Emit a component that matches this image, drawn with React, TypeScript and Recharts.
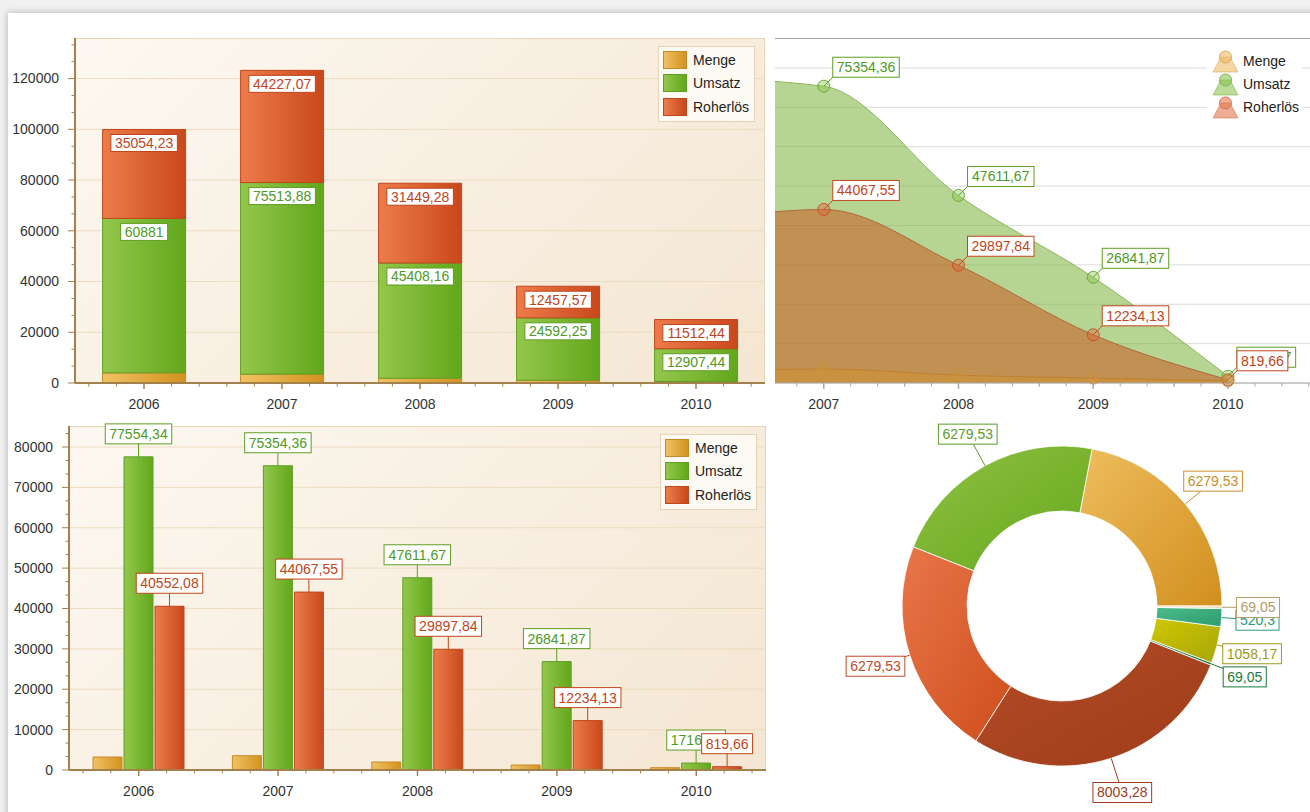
import React from "react";
import {
  BarChart, Bar, XAxis, YAxis, CartesianGrid, LabelList,
  AreaChart, Area, PieChart, Pie, Cell,
} from "recharts";

const YEARS = ["2006", "2007", "2008", "2009", "2010"];

// top-left stacked bars
const STACK_MENGE = [4000, 3500, 1900, 1100, 600];
const STACK_UMSATZ = [60881, 75513.88, 45408.16, 24592.25, 12907.44];
const STACK_ROHERLOES = [35054.23, 44227.07, 31449.28, 12457.57, 11512.44];

// bottom-left bars + top-right areas
const MENGE = [3220, 3540, 1980, 1240, 570];
const UMSATZ = [77554.34, 75354.36, 47611.67, 26841.87, 1716.57];
const ROHERLOES = [40552.08, 44067.55, 29897.84, 12234.13, 819.66];

// donut
const PIE_VALUES = [6279.53, 6279.53, 6279.53, 8003.28, 69.05, 1058.17, 520.3, 69.05];
const PIE_LIGHT = ["#eebd5e", "#8fc242", "#e8764a", "#b24c26", "#2f9352", "#cdc800", "#4cbb8c", "#f5e9d2"];
const PIE_DARK = ["#d28f1e", "#66a71d", "#cf4e1c", "#a03c1a", "#237a42", "#a9a50c", "#2c9c6c", "#e9d6b0"];
const PIE_TEXT = ["#c8902c", "#5c9c2a", "#c0492a", "#9c3c1c", "#1a7a3a", "#9a9a18", "#2a9a78", "#b89a66"];

const Y_STACK_TICKS = [0, 20000, 40000, 60000, 80000, 100000, 120000];
const Y_BAR_TICKS = [0, 10000, 20000, 30000, 40000, 50000, 60000, 70000, 80000];
const Y_AREA_TICKS = [0, 10000, 20000, 30000, 40000, 50000, 60000, 70000, 80000];
const X_AREA_TICKS = [2007, 2008, 2009, 2010];

const SERIES = [
  { key: "menge", name: "Menge", light: "#f0c264", dark: "#d3921f", border: "#c88a26", text: "#c88a26" },
  { key: "umsatz", name: "Umsatz", light: "#94c74c", dark: "#62a71b", border: "#5f9e22", text: "#4e9a24" },
  { key: "roh", name: "Roherlös", light: "#ed7c4b", dark: "#c9481b", border: "#c0461c", text: "#c2441a" },
];

const FONT = "'Liberation Sans', Arial, sans-serif";
const AXIS_BROWN = "#a3814c";

const stackData = YEARS.map((year, i) => ({
  year, menge: STACK_MENGE[i], umsatz: STACK_UMSATZ[i], roh: STACK_ROHERLOES[i],
}));
const data = YEARS.map((year, i) => ({
  year, x: Number(year), menge: MENGE[i], umsatz: UMSATZ[i], roh: ROHERLOES[i],
}));
const pieData = PIE_VALUES.map((value, i) => ({ name: `s${i}`, value }));

const fmt = (v: number) => String(v).replace(".", ",");
const textW = (t: string) => [...t].reduce((s, ch) => s + (ch === "," ? 3.9 : 7.8), 0);

const minorTicks = (step: number, max: number) => {
  const out: number[] = [];
  for (let k = 0; (k * step) / 3 <= max; k++) out.push((k * step) / 3);
  return out;
};

const makeYTick = (step: number, color: string) => (p: any) => {
  const { x, y, payload } = p;
  const v = payload.value;
  const major = Math.abs(v / step - Math.round(v / step)) < 1e-6;
  if (!major) return <line x1={x - 3.5} x2={x} y1={y} y2={y} stroke={color} />;
  return (
    <g>
      <line x1={x - 7} x2={x} y1={y} y2={y} stroke={color} />
      <text x={x - 16} y={y} dy="0.35em" textAnchor="end" fontSize={14} fill="#333">
        {Math.round(v)}
      </text>
    </g>
  );
};

const makeXTick = (band: number, color: string, minors = [-0.4, -0.2, 0.2, 0.4]) => (p: any) => {
  const { x, y, payload } = p;
  return (
    <g>
      <line x1={x} x2={x} y1={y} y2={y + 6} stroke={color} strokeWidth={1.5} />
      {minors.map((f) => (
        <line key={f} x1={x + f * band} x2={x + f * band} y1={y} y2={y + 3.5} stroke={color} />
      ))}
      <text x={x} y={y + 21} dy="0.35em" textAnchor="middle" fontSize={14} fill="#333">
        {payload.value}
      </text>
    </g>
  );
};

const getXY = (p: any) => {
  const vb = p.viewBox || {};
  return {
    x: p.x ?? vb.x, y: p.y ?? vb.y, width: p.width ?? vb.width ?? 0,
  };
};

// label inside the top of a stacked segment
const insideLabel = (c: any) => (p: any) => {
  const { x, y, width } = getXY(p);
  const t = fmt(p.value);
  const w = textW(t) + 8;
  const cx = x + width / 2;
  return (
    <g>
      <rect x={cx - w / 2} y={y + 5} width={w} height={17} fill="#fff" stroke={c.border} />
      <text x={cx} y={y + 13.5} dy="0.35em" textAnchor="middle" fontSize={14} fill={c.text}>{t}</text>
    </g>
  );
};

// label above a bar with connector
const topLabel = (c: any) => (p: any) => {
  const { x, y, width } = getXY(p);
  const t = fmt(p.value);
  const w = textW(t) + 8;
  const cx = x + width / 2;
  const b = y - 13;
  return (
    <g>
      <line x1={cx} x2={cx} y1={y} y2={b} stroke={c.border} />
      <rect x={cx - w / 2} y={b - 20} width={w} height={20} fill="#fff" stroke={c.border} />
      <text x={cx} y={b - 10} dy="0.35em" textAnchor="middle" fontSize={14} fill={c.text}>{t}</text>
    </g>
  );
};

// label up-right of an area point (2006 lies under the left chart)
const pointLabel = (c: any) => (p: any) => {
  if (p.index === 0) return null;
  const { x, y } = getXY(p);
  const t = fmt(p.value);
  const w = textW(t) + 8;
  return (
    <g>
      <line x1={x} y1={y} x2={x + 9} y2={y - 9} stroke={c.border} />
      <rect x={x + 9} y={y - 29} width={w} height={20} fill="#fff" stroke={c.border} />
      <text x={x + 9 + w / 2} y={y - 19} dy="0.35em" textAnchor="middle" fontSize={14} fill={c.text}>{t}</text>
    </g>
  );
};

const pieLabel = (p: any) => {
  const { cx, cy, midAngle, outerRadius, index, value } = p;
  const rad = (-midAngle * Math.PI) / 180;
  const sx = cx + outerRadius * Math.cos(rad);
  const sy = cy + outerRadius * Math.sin(rad);
  const bx = cx + (outerRadius + 36) * Math.cos(rad);
  const by = cy + (outerRadius + 36) * Math.sin(rad);
  const t = fmt(value);
  const w = textW(t) + 8;
  const col = PIE_TEXT[index];
  return (
    <g key={`pl${index}`}>
      <line x1={sx} y1={sy} x2={bx} y2={by} stroke={col} />
      <rect x={bx - w / 2} y={by - 10} width={w} height={20} fill="#fff" stroke={col} />
      <text x={bx} y={by} dy="0.35em" textAnchor="middle" fontSize={14} fill={col}>{t}</text>
    </g>
  );
};

const Gradients = ({ prefix }: { prefix: string }) => (
  <defs>
    {SERIES.map((s) => (
      <linearGradient key={s.key} id={`${prefix}-${s.key}`} x1="0" y1="0" x2="1" y2="0">
        <stop offset="0%" stopColor={s.light} />
        <stop offset="100%" stopColor={s.dark} />
      </linearGradient>
    ))}
  </defs>
);

const SwatchLegend = ({ left, top }: { left: number; top: number }) => (
  <div style={{
    position: "absolute", left, top, width: 97, height: 76, boxSizing: "border-box",
    background: "#fdf9f3", border: "1px solid #e6d5b5", padding: "1px 0 0 4px",
  }}>
    {SERIES.map((s) => (
      <div key={s.key} style={{ display: "flex", alignItems: "center", height: 23.5 }}>
        <div style={{
          width: 24, height: 18, boxSizing: "border-box", border: `1px solid ${s.border}`,
          background: `linear-gradient(90deg, ${s.light}, ${s.dark})`,
        }} />
        <span style={{ marginLeft: 6, fontSize: 14, color: "#222" }}>{s.name}</span>
      </div>
    ))}
  </div>
);

const AREA_ICON = [
  { fill: "rgba(236,186,100,0.6)", stroke: "#dcaa5a" },
  { fill: "rgba(140,196,80,0.6)", stroke: "#7fb44a" },
  { fill: "rgba(226,120,80,0.6)", stroke: "#d8744e" },
];

const AreaLegend = () => (
  <div style={{
    position: "absolute", left: 1207, top: 49, width: 95, height: 70, background: "#fff",
    padding: "0 0 0 5px", boxSizing: "border-box",
  }}>
    {SERIES.map((s, i) => (
      <div key={s.key} style={{ display: "flex", alignItems: "center", height: 23 }}>
        <svg width={27} height={24}>
          <polygon points="1,23 26,23 18,8 9,8" fill={AREA_ICON[i].fill} stroke={AREA_ICON[i].stroke} strokeWidth={0.6} />
          <circle cx={13.5} cy={8} r={6} fill={AREA_ICON[i].fill} stroke={AREA_ICON[i].stroke} />
        </svg>
        <span style={{ marginLeft: 4, fontSize: 14, color: "#222" }}>{s.name}</span>
      </div>
    ))}
  </div>
);

const plotBg = {
  position: "absolute" as const,
  boxSizing: "border-box" as const,
  background: "linear-gradient(135deg, #fcf8f1 0%, #f8eee0 55%, #f4e6d2 100%)",
  border: "1px solid #e8d7b6",
};

export default function App() {
  const [menge, umsatz, roh] = SERIES;
  return (
    <div style={{
      position: "absolute", left: 0, top: 0, width: 1310, height: 812, overflow: "hidden",
      background: "#f1f1f1", fontFamily: FONT,
    }}>
      <div style={{
        position: "absolute", left: 8, top: 13, width: 1330, height: 820, background: "#fff",
        boxShadow: "0 0 7px rgba(0,0,0,0.28)",
      }} />

      {/* top right: areas, the 2006 point falls left of the visible window */}
      <div style={{ position: "absolute", left: 775, top: 38, width: 535, height: 1, background: "#a4a4a4" }} />
      <div style={{ position: "absolute", left: 775, top: 0 }}>
        <AreaChart width={535} height={418} data={data} margin={{ top: 38, right: 0, bottom: 8, left: 0 }}>
          <CartesianGrid vertical={false} stroke="#dcdcdc" horizontalValues={Y_AREA_TICKS} />
          <XAxis
            dataKey="x" type="number" domain={[2006.638, 2010.609]} allowDataOverflow
            ticks={X_AREA_TICKS} height={27} interval={0}
            tickLine={false} tickSize={0} tickMargin={0}
            axisLine={{ stroke: "#a8a8a8" }} tick={makeXTick(134.75, "#a8a8a8", [-0.4, -0.2, 0.2, 0.4, 0.6])}
          />
          <YAxis hide domain={[0, 87600]} ticks={Y_AREA_TICKS} />
          <Area
            dataKey="umsatz" type="monotone" fill="#7ab33a" fillOpacity={0.55} stroke="#8ab75e"
            dot={{ r: 6, fill: "rgba(140,200,80,0.75)", stroke: "#6eaa3e", strokeWidth: 1 }}
            activeDot={false} isAnimationActive={false}
          >
            <LabelList dataKey="umsatz" content={pointLabel(umsatz)} />
          </Area>
          <Area
            dataKey="roh" type="monotone" fill="#c85a1e" fillOpacity={0.55} stroke="#b0683a"
            dot={{ r: 6, fill: "rgba(222,104,56,0.75)", stroke: "#c8522a", strokeWidth: 1 }}
            activeDot={false} isAnimationActive={false}
          >
            <LabelList dataKey="roh" content={pointLabel(roh)} />
          </Area>
          <Area
            dataKey="menge" type="monotone" fill="#d4922a" fillOpacity={0.45} stroke="#c08030"
            dot={{ r: 6, fill: "rgba(214,150,50,0.45)", stroke: "#c99040", strokeWidth: 1 }}
            activeDot={false} isAnimationActive={false}
          />
        </AreaChart>
      </div>
      <AreaLegend />

      {/* top left: stacked bars */}
      <div style={{ ...plotBg, left: 75, top: 38, width: 690, height: 345 }} />
      <div style={{ position: "absolute", left: 0, top: 0 }}>
        <BarChart width={780} height={418} data={stackData} barCategoryGap="20%"
          margin={{ top: 38, right: 15, bottom: 8, left: 0 }}>
          <Gradients prefix="s" />
          <CartesianGrid vertical={false} stroke="#ecdcc0" horizontalValues={Y_STACK_TICKS} />
          <XAxis
            dataKey="year" height={27} interval={0} tickLine={false} tickSize={0} tickMargin={0}
            axisLine={{ stroke: AXIS_BROWN, strokeWidth: 2 }} tick={makeXTick(138, AXIS_BROWN)}
          />
          <YAxis
            width={75} domain={[0, 136000]} ticks={minorTicks(20000, 136000)} interval={0}
            tickLine={false} tickSize={0} tickMargin={0}
            axisLine={{ stroke: AXIS_BROWN, strokeWidth: 2 }} tick={makeYTick(20000, AXIS_BROWN)}
          />
          <Bar dataKey="menge" stackId="a" fill="url(#s-menge)" stroke={menge.border} isAnimationActive={false} />
          <Bar dataKey="umsatz" stackId="a" fill="url(#s-umsatz)" stroke={umsatz.border} isAnimationActive={false}>
            <LabelList dataKey="umsatz" content={insideLabel(umsatz)} />
          </Bar>
          <Bar dataKey="roh" stackId="a" fill="url(#s-roh)" stroke={roh.border} isAnimationActive={false}>
            <LabelList dataKey="roh" content={insideLabel(roh)} />
          </Bar>
        </BarChart>
      </div>
      <SwatchLegend left={658} top={46} />

      {/* bottom left: grouped bars */}
      <div style={{ ...plotBg, left: 69, top: 426, width: 697, height: 344 }} />
      <div style={{ position: "absolute", left: 0, top: 410 }}>
        <BarChart width={780} height={402} data={data} barCategoryGap={24} barGap={2}
          margin={{ top: 16, right: 14, bottom: 0, left: 0 }}>
          <Gradients prefix="b" />
          <CartesianGrid vertical={false} stroke="#ecdcc0" horizontalValues={Y_BAR_TICKS} />
          <XAxis
            dataKey="year" height={42} interval={0} tickLine={false} tickSize={0} tickMargin={0}
            axisLine={{ stroke: AXIS_BROWN, strokeWidth: 2 }} tick={makeXTick(139.4, AXIS_BROWN)}
          />
          <YAxis
            width={69} domain={[0, 85200]} ticks={minorTicks(10000, 85200)} interval={0}
            tickLine={false} tickSize={0} tickMargin={0}
            axisLine={{ stroke: AXIS_BROWN, strokeWidth: 2 }} tick={makeYTick(10000, AXIS_BROWN)}
          />
          <Bar dataKey="menge" fill="url(#b-menge)" stroke={menge.border} isAnimationActive={false} />
          <Bar dataKey="umsatz" fill="url(#b-umsatz)" stroke={umsatz.border} isAnimationActive={false}>
            <LabelList dataKey="umsatz" content={topLabel(umsatz)} />
          </Bar>
          <Bar dataKey="roh" fill="url(#b-roh)" stroke={roh.border} isAnimationActive={false}>
            <LabelList dataKey="roh" content={topLabel(roh)} />
          </Bar>
        </BarChart>
      </div>
      <SwatchLegend left={660} top={434} />

      {/* bottom right: donut */}
      <div style={{ position: "absolute", left: 775, top: 410 }}>
        <PieChart width={535} height={402}>
          <defs>
            {PIE_LIGHT.map((c, i) => (
              <linearGradient key={i} id={`p${i}`} x1="0" y1="0" x2="1" y2="1">
                <stop offset="0%" stopColor={c} />
                <stop offset="100%" stopColor={PIE_DARK[i]} />
              </linearGradient>
            ))}
          </defs>
          <Pie
            data={pieData} dataKey="value" cx={282} cy={191} innerRadius={95} outerRadius={160}
            startAngle={0} endAngle={360} stroke="#fff" strokeWidth={0.8}
            label={pieLabel} labelLine={false} isAnimationActive={false}
          >
            {pieData.map((_, i) => (
              <Cell key={i} fill={`url(#p${i})`} />
            ))}
          </Pie>
        </PieChart>
      </div>
    </div>
  );
}
